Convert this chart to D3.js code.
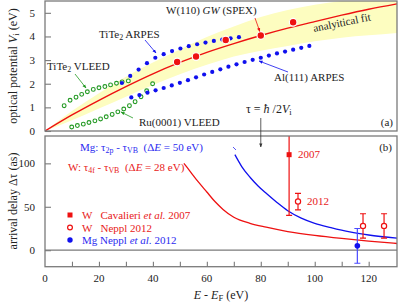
<!DOCTYPE html>
<html>
<head>
<meta charset="utf-8">
<script src="https://cdn.jsdelivr.net/npm/d3@7"></script>
<style>
  body { margin: 0; background: #fff; }
  svg text { font-family: "Liberation Serif", "Times New Roman", serif; white-space: pre; }
</style>
</head>
<body>
<svg id="chart" width="399" height="306"></svg>
<script>
// ---- data ----
var fitE = [0, 10, 20, 30, 40, 50, 60, 70, 80, 90, 100, 110, 120, 130.5];
var fitV = [0, 0.68, 1.3, 1.88, 2.42, 2.9, 3.33, 3.7, 4.04, 4.35, 4.63, 4.9, 5.15, 5.38];
var bandHi = [0, 0.85, 1.6, 2.3, 2.9, 3.45, 3.98, 4.42, 4.82, 5.12, 5.34, 5.5, 5.62, 5.75];
var bandLo = [0, 0.45, 0.95, 1.45, 1.95, 2.4, 2.8, 3.15, 3.4, 3.6, 3.8, 3.95, 4.05, 4.15];

var gwE = [49, 56, 67, 80, 92];
var gwV = [2.92, 3.15, 3.85, 4.04, 4.6];

var titeArpesE = [28.5, 31.6, 34.7, 37.8, 40.9, 44, 47.1, 50.2, 53.3, 56.4, 59.5, 62.6, 65.7, 68.8, 71.9];
var titeArpesV = [2.03, 2.33, 2.6, 2.87, 3.1, 3.25, 3.38, 3.49, 3.59, 3.67, 3.74, 3.81, 3.87, 3.92, 3.97];

var alArpesE = [32, 35, 38, 41, 44, 47, 50, 53, 56, 59, 62, 65, 68, 71, 74, 77, 80, 83, 86, 89, 92, 95, 98];
var alArpesV = [1.42, 1.52, 1.62, 1.72, 1.82, 1.93, 2.04, 2.15, 2.27, 2.39, 2.5, 2.61, 2.72, 2.82, 2.92, 3.01, 3.1, 3.19, 3.28, 3.36, 3.44, 3.52, 3.6];

var titeLeedE = [7.1, 9.3, 11.5, 13.6, 15.7, 17.9, 20, 22.2, 24.3, 26.5, 28.6, 30.9];
var titeLeedV = [1.07, 1.3, 1.43, 1.55, 1.66, 1.76, 1.83, 1.88, 1.95, 2.02, 2.08, 2.12];

var ruLeedE = [9.9, 12.0, 14.2, 16.3, 18.5, 20.6, 22.7, 24.9, 27.0, 29.2, 31.3, 33.4, 35.6, 37.7, 39.9];
var ruLeedV = [0.17, 0.23, 0.29, 0.36, 0.43, 0.51, 0.6, 0.7, 0.81, 0.93, 1.07, 1.24, 1.45, 1.7, 2.0];

var wCurveE = [51.5, 54, 57, 60, 63, 66, 70, 76, 82, 90, 100, 110, 120, 130.5];
var wCurveD = [100, 90, 78, 67, 56, 47, 38, 31, 26.5, 21.5, 17, 13.5, 10.5, 7.7];

var mgCurveE = [70.4, 73, 76, 79, 82, 86, 90, 95, 100, 106, 113, 120, 130.5];
var mgCurveD = [110, 96, 84, 74, 65.5, 55, 45.5, 37, 31, 26, 21, 17.5, 14];

var cavE = [90.5], cavD = [110], cavErr = [70];
var wNepE = [93.8, 117.9, 125.7], wNepD = [56, 28, 28], wNepErr = [9.5, 14, 14];
var mgNepE = [115.8], mgNepD = [5], mgNepErr = [20];

var topTicks = [0, 1, 2, 3, 4, 5];
var botTicks = [0, 50, 100];
var xLabelTicks = [0, 20, 40, 60, 80, 100, 120];
var xMinorTicks = [10, 20, 30, 40, 50, 60, 70, 80, 90, 100, 110, 120];

// ---- colours ----
var RED = "#ee1111", BLUE = "#1010ee", GREEN = "#229922", GRAY = "#7a7a7a";
var TRED = "#e82020", TBLUE = "#2a2af0";
var SERIF = "Liberation Serif, Times New Roman, serif";

var svg = d3.select("#chart");

var x = d3.scaleLinear().domain([0, 130.5]).range([45, 397]);
var yTop = d3.scaleLinear().domain([0, 5.5]).range([131, 1]);
var yBot = d3.scaleLinear().domain([-19, 131.5]).range([266.7, 136]);

var defs = svg.append("defs");
defs.append("clipPath").attr("id", "clipTop").append("rect")
  .attr("x", 45).attr("y", 1).attr("width", 352).attr("height", 130);
defs.append("clipPath").attr("id", "clipBot").append("rect")
  .attr("x", 45).attr("y", 136).attr("width", 352).attr("height", 130.7);

function marker(id, col) {
  defs.append("marker").attr("id", id)
    .attr("viewBox", "0 0 10 10").attr("refX", 9).attr("refY", 5)
    .attr("markerWidth", 5).attr("markerHeight", 5).attr("orient", "auto")
    .append("path").attr("d", "M0,1 L10,5 L0,9 Z").attr("fill", col);
}
marker("arRed", RED);
marker("arBlue", BLUE);
marker("arGreen", GREEN);
marker("arBlack", "#333");

function zip(a, b) { return a.map(function (d, i) { return [d, b[i]]; }); }

// ================= top panel =================
var gTop = svg.append("g").attr("clip-path", "url(#clipTop)");

var band = d3.area()
  .x(function (d) { return x(d[0]); })
  .y0(function (d) { return yTop(d[1]); })
  .y1(function (d) { return yTop(d[2]); })
  .curve(d3.curveMonotoneX);
gTop.append("path")
  .datum(fitE.map(function (e, i) { return [e, bandLo[i], bandHi[i]]; }))
  .attr("d", band).attr("fill", "#fdfdc0");

gTop.append("path")
  .datum(zip(fitE, fitV))
  .attr("d", d3.line().x(function (d) { return x(d[0]); }).y(function (d) { return yTop(d[1]); }).curve(d3.curveMonotoneX))
  .attr("fill", "none").attr("stroke", RED).attr("stroke-width", 1.4);

gTop.selectAll(".tl").data(zip(titeLeedE, titeLeedV)).enter().append("circle")
  .attr("cx", function (d) { return x(d[0]); }).attr("cy", function (d) { return yTop(d[1]); })
  .attr("r", 1.9).attr("fill", "#fff").attr("stroke", GREEN).attr("stroke-width", 1.1);
gTop.selectAll(".rl").data(zip(ruLeedE, ruLeedV)).enter().append("circle")
  .attr("cx", function (d) { return x(d[0]); }).attr("cy", function (d) { return yTop(d[1]); })
  .attr("r", 1.9).attr("fill", "#fff").attr("stroke", GREEN).attr("stroke-width", 1.1);

gTop.selectAll(".ta").data(zip(titeArpesE, titeArpesV)).enter().append("circle")
  .attr("cx", function (d) { return x(d[0]); }).attr("cy", function (d) { return yTop(d[1]); })
  .attr("r", 2.1).attr("fill", BLUE);
gTop.selectAll(".aa").data(zip(alArpesE, alArpesV)).enter().append("circle")
  .attr("cx", function (d) { return x(d[0]); }).attr("cy", function (d) { return yTop(d[1]); })
  .attr("r", 2.1).attr("fill", BLUE);

gTop.selectAll(".gw").data(zip(gwE, gwV)).enter().append("circle")
  .attr("cx", function (d) { return x(d[0]); }).attr("cy", function (d) { return yTop(d[1]); })
  .attr("r", 3.8).attr("fill", RED).attr("stroke", "#fff").attr("stroke-width", 1.2);

function styleAxis(g) {
  g.attr("font-family", SERIF).attr("font-size", 11);
  g.select(".domain").remove();
  g.selectAll("line").attr("stroke", GRAY).attr("stroke-width", 1.1);
  g.selectAll("text").attr("fill", "#222");
}

// frame + y ticks top
svg.append("rect").attr("x", 45).attr("y", 1).attr("width", 352).attr("height", 130)
  .attr("fill", "none").attr("stroke", GRAY).attr("stroke-width", 1.3);
var yAxTop = d3.axisLeft(yTop).tickValues(topTicks).tickFormat(d3.format("d")).tickSize(-6).tickPadding(10);
svg.append("g").attr("transform", "translate(45,0)").call(yAxTop).call(styleAxis);

// ================= bottom panel =================
var gBot = svg.append("g").attr("clip-path", "url(#clipBot)");

gBot.append("line").attr("x1", 45).attr("x2", 397).attr("y1", yBot(0)).attr("y2", yBot(0))
  .attr("stroke", GRAY).attr("stroke-width", 1.3);

var lineBot = d3.line().x(function (d) { return x(d[0]); }).y(function (d) { return yBot(d[1]); })
  .curve(d3.curveMonotoneX);
gBot.append("path").datum(zip(wCurveE, wCurveD)).attr("d", lineBot)
  .attr("fill", "none").attr("stroke", RED).attr("stroke-width", 1.3);
gBot.append("path").datum(zip(mgCurveE, mgCurveD)).attr("d", lineBot)
  .attr("fill", "none").attr("stroke", BLUE).attr("stroke-width", 1.3);

function errBars(E, D, Er, col, cap) {
  var data = E.map(function (e, i) { return { e: e, d: D[i], r: Er[i] }; });
  var g = gBot.append("g");
  g.selectAll(".v").data(data).enter().append("line")
    .attr("x1", function (d) { return x(d.e); }).attr("x2", function (d) { return x(d.e); })
    .attr("y1", function (d) { return yBot(d.d - d.r); }).attr("y2", function (d) { return yBot(d.d + d.r); })
    .attr("stroke", col).attr("stroke-width", 1.2);
  [-1, 1].forEach(function (s) {
    g.selectAll(".c" + s).data(data).enter().append("line")
      .attr("x1", function (d) { return x(d.e) - cap; }).attr("x2", function (d) { return x(d.e) + cap; })
      .attr("y1", function (d) { return yBot(d.d + s * d.r); }).attr("y2", function (d) { return yBot(d.d + s * d.r); })
      .attr("stroke", col).attr("stroke-width", 1.2);
  });
}
errBars(cavE, cavD, cavErr, RED, 3);
errBars(wNepE, wNepD, wNepErr, RED, 3);
errBars(mgNepE, mgNepD, mgNepErr, "#4a4aff", 3);

gBot.selectAll(".cav").data(zip(cavE, cavD)).enter().append("rect")
  .attr("x", function (d) { return x(d[0]) - 2.5; }).attr("y", function (d) { return yBot(d[1]) - 2.5; })
  .attr("width", 5).attr("height", 5).attr("fill", RED);
gBot.selectAll(".wn").data(zip(wNepE, wNepD)).enter().append("circle")
  .attr("cx", function (d) { return x(d[0]); }).attr("cy", function (d) { return yBot(d[1]); })
  .attr("r", 2.6).attr("fill", "#fff").attr("stroke", RED).attr("stroke-width", 1.2);
gBot.selectAll(".mn").data(zip(mgNepE, mgNepD)).enter().append("circle")
  .attr("cx", function (d) { return x(d[0]); }).attr("cy", function (d) { return yBot(d[1]); })
  .attr("r", 2.8).attr("fill", BLUE);

svg.append("rect").attr("x", 45).attr("y", 136).attr("width", 352).attr("height", 130.7)
  .attr("fill", "none").attr("stroke", GRAY).attr("stroke-width", 1.3);
var yAxBot = d3.axisLeft(yBot).tickValues(botTicks).tickFormat(d3.format("d")).tickSize(-6).tickPadding(10);
svg.append("g").attr("transform", "translate(45,0)").call(yAxBot).call(styleAxis);

var xAx = d3.axisBottom(x).tickValues(xMinorTicks).tickSize(-5).tickFormat("");
svg.append("g").attr("transform", "translate(0,266.7)").call(xAx).call(styleAxis);
svg.append("g").selectAll("text").data(xLabelTicks).enter().append("text")
  .attr("x", function (d) { return x(d); }).attr("y", 282)
  .attr("text-anchor", "middle").attr("font-size", 11).attr("fill", "#222")
  .text(function (d) { return d; });

// ================= text helpers =================
function rich(parent, px, py, parts, opts) {
  opts = opts || {};
  var t = parent.append("text").attr("x", px).attr("y", py)
    .attr("font-size", opts.size || 11).attr("fill", opts.fill || "#222");
  if (opts.anchor) t.attr("text-anchor", opts.anchor);
  if (opts.transform) t.attr("transform", opts.transform);
  parts.forEach(function (p) {
    var s = t.append("tspan").text(p.t);
    if (p.i) s.attr("font-style", "italic");
    if (p.sub) s.attr("baseline-shift", "-25%").attr("font-size", (opts.size || 11) * 0.72);
  });
  return t;
}
function arrow(x1, y1, x2, y2, col, mk) {
  svg.append("line").attr("x1", x1).attr("y1", y1).attr("x2", x2).attr("y2", y2)
    .attr("stroke", col).attr("stroke-width", 0.8).attr("marker-end", "url(#" + mk + ")");
}

// top panel annotations
rich(svg, 166, 14, [{ t: "W(110) " }, { t: "GW", i: 1 }, { t: " (SPEX)" }]);
arrow(255, 18, x(80) - 1, yTop(4.04) - 4, RED, "arRed");
rich(svg, 314, 32, [{ t: "analyitical fit" }], { transform: "rotate(-11.5,314,32)" });
rich(svg, 99, 38, [{ t: "TiTe" }, { t: "2", sub: 1 }, { t: " ARPES" }]);
arrow(145, 40, 156, 53, BLUE, "arBlue");
rich(svg, 47, 70, [{ t: "TiTe" }, { t: "2", sub: 1 }, { t: " VLEED" }]);
arrow(75, 74, 86, 88, GREEN, "arGreen");
rich(svg, 139, 126, [{ t: "Ru(0001) VLEED" }]);
arrow(133, 118, 121, 112, GREEN, "arGreen");
rich(svg, 274, 81, [{ t: "Al(111) ARPES" }]);
arrow(288, 72, 259, 61, BLUE, "arBlue");
rich(svg, 393, 126, [{ t: "(a)" }], { anchor: "end" });

rich(svg, 246, 113, [{ t: "\u03c4 = " }, { t: "\u0127", i: 1 }, { t: " /2" }, { t: "V", i: 1 }, { t: "i", sub: 1 }], { size: 12 });
arrow(x(80), 118, x(80), 147, "#333", "arBlack");

// bottom panel annotations
rich(svg, 80, 151, [{ t: "Mg: \u03c4" }, { t: "2p", sub: 1 }, { t: " - \u03c4" }, { t: "VB", sub: 1 },
  { t: "  (\u0394" }, { t: "E", i: 1 }, { t: " = 50 eV)" }], { fill: TBLUE });
svg.append("line").attr("x1", 233).attr("y1", 147).attr("x2", 236).attr("y2", 150)
  .attr("stroke", TBLUE).attr("stroke-width", 0.8);
rich(svg, 68, 171, [{ t: "W: \u03c4" }, { t: "4f", sub: 1 }, { t: " - \u03c4" }, { t: "VB", sub: 1 },
  { t: "  (\u0394" }, { t: "E", i: 1 }, { t: " = 28 eV)" }], { fill: TRED });
rich(svg, 298, 158, [{ t: "2007" }], { fill: TRED });
rich(svg, 307, 205, [{ t: "2012" }], { fill: TRED });
rich(svg, 392, 151, [{ t: "(b)" }], { anchor: "end" });

// legend
svg.append("rect").attr("x", 67.5).attr("y", 212.5).attr("width", 5).attr("height", 5).attr("fill", RED);
rich(svg, 82, 219, [{ t: "W   Cavalieri " }, { t: "et al.", i: 1 }, { t: " 2007" }], { fill: TRED });
svg.append("circle").attr("cx", 70).attr("cy", 227.5).attr("r", 2.4)
  .attr("fill", "#fff").attr("stroke", RED).attr("stroke-width", 1.2);
rich(svg, 82, 231.5, [{ t: "W   Neppl 2012" }], { fill: TRED });
svg.append("circle").attr("cx", 70).attr("cy", 240).attr("r", 2.7).attr("fill", BLUE);
rich(svg, 82, 244, [{ t: "Mg Neppl " }, { t: "et al.", i: 1 }, { t: " 2012" }], { fill: TBLUE });

// axis titles
rich(svg, 0, 0, [{ t: "optical potential " }, { t: "V", i: 1 }, { t: "i", sub: 1 }, { t: " (eV)" }],
  { size: 12, anchor: "middle", transform: "translate(17,66) rotate(-90)" });
rich(svg, 0, 0, [{ t: "arrival delay \u0394\u03c4 (as)" }],
  { size: 12, anchor: "middle", transform: "translate(17,201) rotate(-90)" });
rich(svg, 221, 299, [{ t: "E", i: 1 }, { t: " - " }, { t: "E", i: 1 }, { t: "F", sub: 1 }, { t: " (eV)" }],
  { size: 12, anchor: "middle" });
</script>
</body>
</html>
